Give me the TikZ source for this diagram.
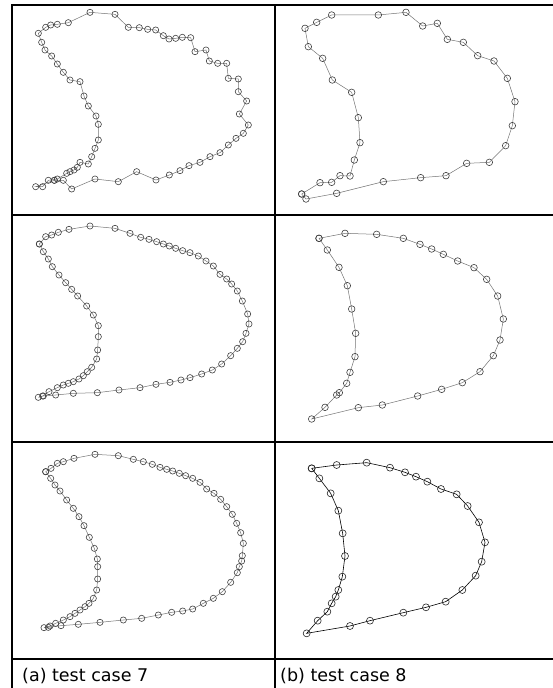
\documentclass[tikz,border=0pt]{standalone}
\usepackage{fontspec}
\newfontfamily\capfont{DejaVu Sans}
\usetikzlibrary{plotmarks}
\begin{document}
\begin{tikzpicture}[x=1pt,y=-1pt]
\useasboundingbox (0,0) rectangle (553,688);
\tikzset{
  gridline/.style={line width=2pt,black},
  contour/.style={line width=0.5pt, draw=black!55, mark=o, mark size=3.1pt,
    mark options={solid, draw=black!75, line width=0.6pt}},
  contourb/.style={contour, mark size=3.3pt},
  panel/.style={x=0.33333pt, y=-0.33333pt},
  captext/.style={anchor=base west, inner sep=0pt, font=\capfont\fontsize{17.5}{20}\selectfont}
}
% grid
\draw[gridline] (11,5) -- (553,5);
\draw[gridline] (12,4) -- (12,688);
\draw[gridline] (275,5) -- (275,688);
\draw[gridline] (11,215) -- (553,215);
\draw[gridline] (11,442) -- (553,442);
\draw[gridline] (11,659) -- (553,659);

% panel 1 : test case 7, row 1
\begin{scope}[shift={(0pt,0pt)}, panel]
\draw[contour] plot coordinates {
(163,541) (190,541) (215,567) (285,537) (355,545) (410,515) (468,540) (508,525)
(540,512) (567,497) (600,487) (630,470) (660,458) (685,435) (708,415) (730,400)
(745,375) (718,342) (740,303) (715,275) (715,237) (685,235) (680,190) (653,190)
(628,183) (618,150) (585,155) (572,113) (547,112) (527,115) (507,117) (490,107)
(467,90) (443,88) (418,83) (385,82) (345,43) (270,37) (205,68) (172,73) (152,75)
(137,82) (115,100) (125,127) (135,150) (155,168) (172,192) (190,217) (210,240)
(240,245) (252,288) (265,318) (288,348) (295,373) (295,420) (285,445) (275,470)
(265,492) (240,487) (232,502) (222,510) (210,515) (200,520) (172,537) (145,541)
(128,560) (107,560) (163,541)};
\end{scope}

% panel 2 : test case 8, row 1
\begin{scope}[shift={(270pt,0pt)}, panel]
\draw[contourb] plot coordinates {
(95,582) (108,597) (200,580) (340,545) (452,533) (528,527) (590,490) (658,487)
(707,437) (727,377) (735,305) (712,235) (672,183) (623,167) (580,127) (532,118)
(502,70) (458,78) (408,37) (325,45) (185,45) (140,67) (105,85) (115,140) (158,175)
(187,240) (245,277) (265,353) (270,428) (253,480) (240,528) (210,527) (185,547)
(150,548) (95,582)};
\end{scope}

% panel 3 : test case 7, row 2
\begin{scope}[shift={(0pt,-205pt)}, panel]
\draw[contour] plot coordinates {
(118,117) (137,95) (155,90) (175,82) (207,73) (270,63) (345,70) (390,85) (422,97)
(447,103) (470,110) (490,117) (508,123) (527,130) (548,137) (570,143) (595,153)
(618,168) (640,183) (660,208) (680,222) (695,237) (712,258) (727,288) (743,327)
(747,357) (738,385) (728,410) (712,430) (692,452) (665,477) (637,495) (605,507)
(570,518) (543,525) (510,532) (468,538) (420,548) (357,555) (292,563) (220,565)
(167,570) (130,573) (115,577) (128,573) (147,560) (172,548) (190,540) (205,535)
(220,530) (237,522) (250,512) (262,500) (275,487) (290,462) (293,435) (295,395)
(295,362) (280,330) (260,303) (233,273) (215,253) (197,233) (177,210) (157,185)
(145,162) (130,140) (118,117)};
\end{scope}

% panel 4 : test case 8, row 2
\begin{scope}[shift={(270pt,-205pt)}, panel]
\draw[contourb] plot coordinates {
(147,100) (225,85) (320,88) (400,100) (450,118) (485,132) (520,148) (563,168)
(612,188) (650,223) (683,273) (700,342) (690,405) (670,452) (630,500) (577,533)
(515,553) (443,573) (337,600) (265,608) (125,642) (165,607) (200,570) (208,563)
(230,535) (240,502) (255,455) (257,385) (245,312) (232,242) (207,187) (172,135)
(147,100)};
\end{scope}

% panel 5 : test case 7, row 3
\begin{scope}[shift={(0pt,-410pt)}, panel]
\draw[contour] plot coordinates {
(137,185) (153,175) (172,160) (190,155) (222,145) (285,133) (355,137) (400,148)
(430,155) (457,163) (480,172) (500,178) (518,183) (538,190) (557,197) (578,205)
(600,217) (620,237) (642,250) (662,268) (680,290) (697,313) (710,340) (722,368)
(730,400) (727,437) (725,453) (718,470) (712,488) (692,517) (667,545) (640,565)
(610,580) (578,597) (548,603) (515,607) (475,615) (425,625) (370,630) (300,637)
(235,643) (183,647) (145,652) (132,653) (150,648) (167,640) (190,630) (210,620)
(225,610) (240,600) (255,590) (267,580) (280,565) (290,540) (293,507) (293,470)
(292,447) (283,415) (268,382) (252,347) (237,320) (220,295) (200,270) (180,243)
(165,225) (152,205) (137,185)};
\end{scope}

% panel 6 : test case 8, row 3
\begin{scope}[shift={(270pt,-410pt)}, panel]
\draw[contourb, draw=black, line width=0.6pt, mark options={solid, draw=black!85, line width=0.6pt}, mark size=3.5pt] plot coordinates {
(125,175) (200,165) (290,158) (360,173) (405,187) (438,200) (472,215) (513,237)
(560,253) (593,288) (627,337) (645,397) (635,455) (617,497) (577,540) (527,575)
(468,592) (400,608) (300,632) (240,648) (110,670) (143,632) (172,605) (185,580)
(197,560) (205,540) (217,500) (225,438) (218,370) (205,302) (182,250) (148,205)
(125,175)};
\end{scope}

% captions
\node[captext] (capa) at (22,681) {(a) test case 7};
\node[captext] (capb) at (280,681) {(b) test case 8};
\end{tikzpicture}
\end{document}
